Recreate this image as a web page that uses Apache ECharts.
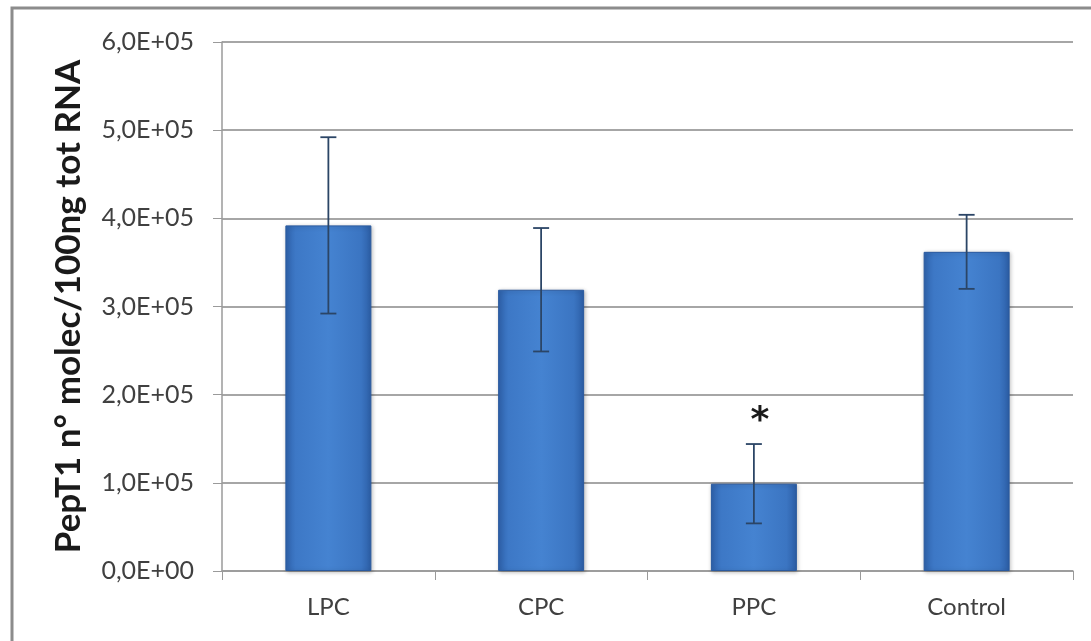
<!DOCTYPE html>
<html><head><meta charset="utf-8">
<script src="https://cdn.jsdelivr.net/npm/echarts@6/dist/echarts.min.js"></script>
<style>html,body{margin:0;padding:0;background:#fff}#c{width:1091px;height:641px}</style>
</head><body><div id="c"></div>
<script>
const categories = ['LPC', 'CPC', 'PPC', 'Control'];
const means = [392000, 319000, 99000, 362000];
const errors = [100000, 70000, 45000, 42000];
const markers = ['', '', '*', ''];
const yTicks = [0, 100000, 200000, 300000, 400000, 500000, 600000];

function fmt(v) {
  if (v === 0) return '0,0E+00';
  const e = Math.floor(Math.log10(v));
  const m = v / Math.pow(10, e);
  return m.toFixed(1).replace('.', ',') + 'E+' + String(e).padStart(2, '0');
}

const chart = echarts.init(document.getElementById('c'));
const font = 'Lato, "Open Sans", sans-serif';
chart.setOption({
  animation: false,
  grid: { left: 222, right: 18, top: 42, bottom: 70 },
  graphic: [{
    type: 'rect', shape: { x: 12, y: 8, width: 1200, height: 800 },
    style: { fill: 'none', stroke: '#8c8c8c', lineWidth: 3 }, z: 100
  }],
  xAxis: {
    type: 'category', data: categories,
    axisLine: { lineStyle: { color: '#9a9a9a', width: 1.5 } },
    axisTick: { show: true, length: 9, lineStyle: { color: '#9a9a9a' } },
    axisLabel: { color: '#404040', fontSize: 24, fontFamily: font, margin: 24 }
  },
  yAxis: {
    type: 'value', min: 0, max: 600000, interval: 100000,
    name: 'PepT1 n° molec/100ng tot RNA', nameLocation: 'middle', nameGap: 136,
    nameTextStyle: { fontSize: 35, fontWeight: 'bold', color: '#1a1a1a', fontFamily: font },
    axisLine: { show: true, lineStyle: { color: '#9a9a9a', width: 1.5 } },
    axisTick: { show: true, length: 9, lineStyle: { color: '#9a9a9a' } },
    splitLine: { lineStyle: { color: '#a6a6a6', width: 2 } },
    axisLabel: { color: '#404040', fontSize: 25, fontFamily: font, margin: 28,
      formatter: v => yTicks.includes(v) ? fmt(v) : '' }
  },
  series: [{
    type: 'bar', data: means, barWidth: 86,
    itemStyle: {
      color: new echarts.graphic.LinearGradient(0, 0, 1, 0, [
        { offset: 0, color: '#2f63ad' }, { offset: 0.12, color: '#3d78c6' },
        { offset: 0.5, color: '#4583d1' }, { offset: 0.88, color: '#3b75c2' },
        { offset: 1, color: '#2c5ea6' }
      ]),
      borderColor: '#2a5a9f', borderWidth: 1,
      shadowColor: 'rgba(0,0,0,0.25)', shadowBlur: 4, shadowOffsetX: 1, shadowOffsetY: 1
    },
    z: 2
  }, {
    type: 'custom',
    data: means.map((m, i) => [i, m - errors[i], m + errors[i], markers[i]]),
    renderItem: function (params, api) {
      const i = api.value(0);
      const lo = api.coord([i, api.value(1)]);
      const hi = api.coord([i, api.value(2)]);
      const x = lo[0], cap = 8;
      const style = { stroke: '#2b4566', lineWidth: 1.8 };
      const children = [
        { type: 'line', shape: { x1: x, y1: lo[1], x2: x, y2: hi[1] }, style },
        { type: 'line', shape: { x1: x - cap, y1: lo[1], x2: x + cap, y2: lo[1] }, style },
        { type: 'line', shape: { x1: x - cap, y1: hi[1], x2: x + cap, y2: hi[1] }, style }
      ];
      const mk = markers[params.dataIndex];
      if (mk) {
        children.push({ type: 'text', style: { text: mk, x: x + 6, y: hi[1] - 22,
          fill: '#1a1a1a', font: 'bold 36px "DejaVu Sans", sans-serif', align: 'center', verticalAlign: 'middle' } });
      }
      return { type: 'group', children };
    },
    z: 5
  }]
});
</script></body></html>
